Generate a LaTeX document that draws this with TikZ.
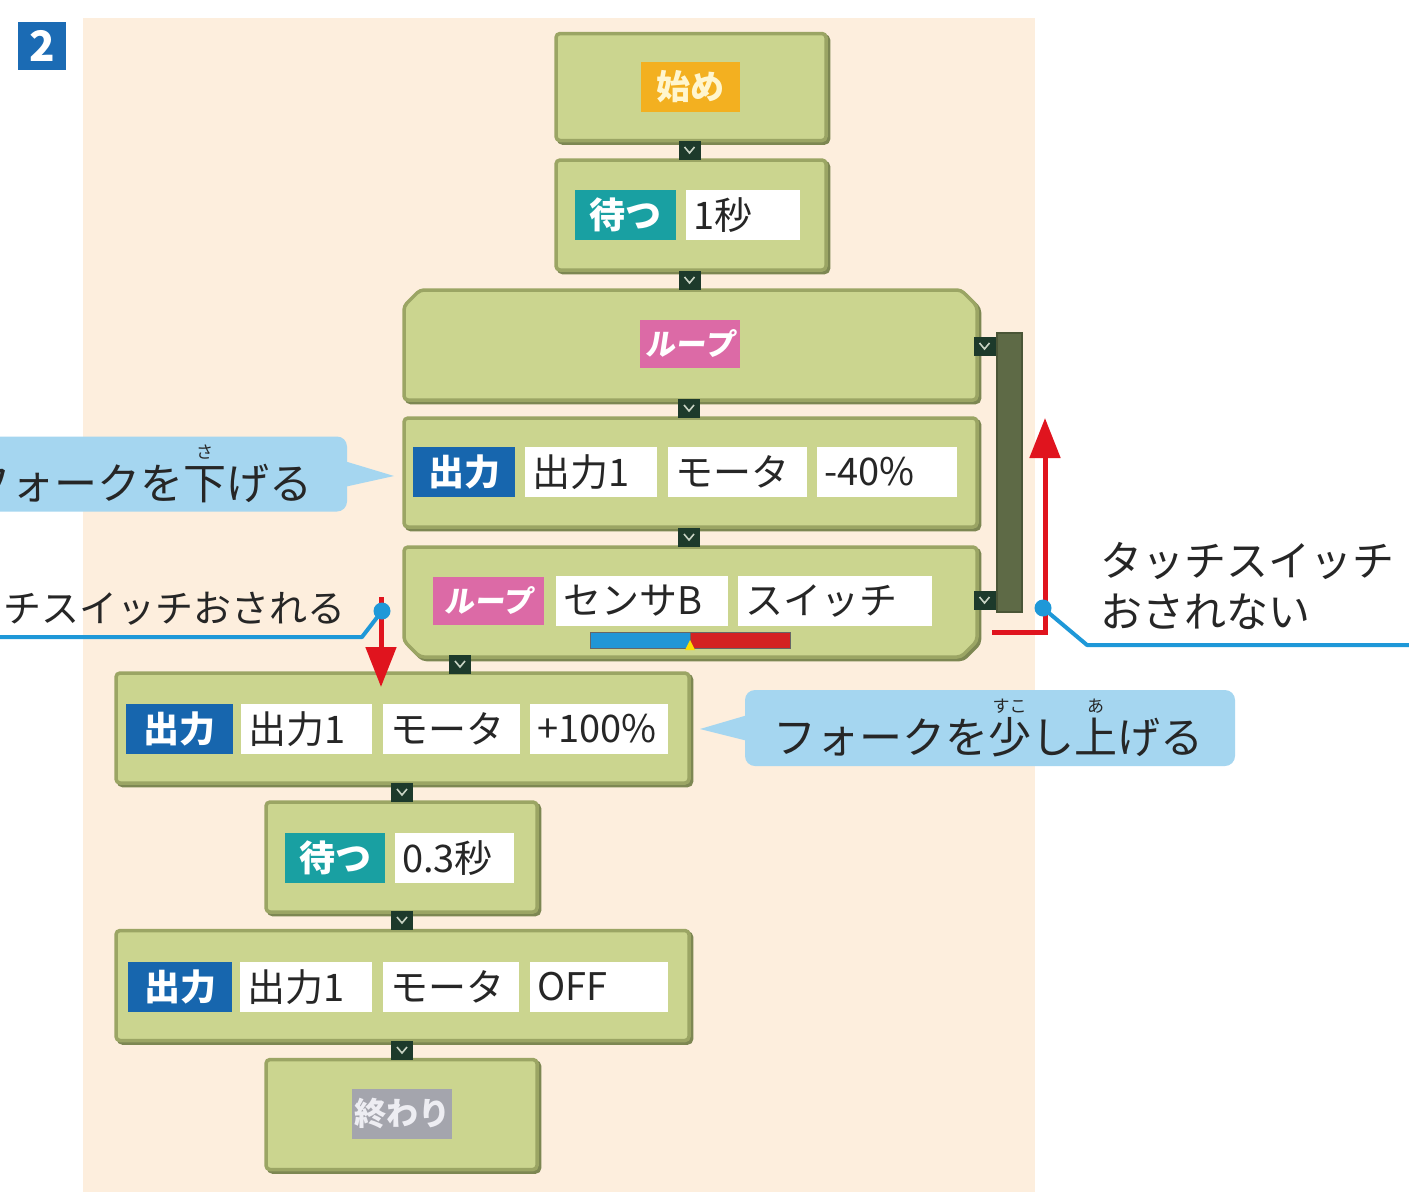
\documentclass[tikz,border=0pt]{standalone}
\usepackage{fontspec}
\newfontfamily\jp{Noto Sans CJK JP}
\newfontfamily\jpsl{Noto Sans CJK JP}[FakeSlant=0.15]
\usetikzlibrary{arrows.meta,calc}
\definecolor{peach}{HTML}{FDEEDD}
\definecolor{blockfill}{HTML}{CBD58F}
\definecolor{blockedge}{HTML}{9BA564}
\definecolor{blockshade}{HTML}{7D8752}
\definecolor{plugc}{HTML}{1D3A2B}
\definecolor{plugmark}{HTML}{C9D3C4}
\definecolor{loopbarc}{HTML}{5E6A46}
\definecolor{loopbaredge}{HTML}{4A5536}
\definecolor{outblue}{HTML}{1766AE}
\definecolor{waitteal}{HTML}{19A0A2}
\definecolor{looppink}{HTML}{DC6AA6}
\definecolor{startorange}{HTML}{F3B020}
\definecolor{startcream}{HTML}{FFF6CF}
\definecolor{endgray}{HTML}{A4A5AD}
\definecolor{endtext}{HTML}{EDEDF2}
\definecolor{calloutblue}{HTML}{A5D6F0}
\definecolor{leaderblue}{HTML}{1E98D8}
\definecolor{arrowred}{HTML}{E0141E}
\definecolor{badgeblue}{HTML}{1B6BB4}
\definecolor{barblue}{HTML}{2196D6}
\definecolor{barred}{HTML}{D42222}
\newcommand\rubytxt[2]{\leavevmode\rlap{\makebox[1em]{\raisebox{0.95em}[0pt][0pt]{\fontsize{17}{17}\selectfont #2}}}#1}
\tikzset{
  blockpath/.style={fill=blockfill, draw=blockedge, line width=3.5pt, rounded corners=4pt,
    preaction={fill=blockshade, draw=blockshade, line width=3.5pt, transform canvas={xshift=2.5pt,yshift=-2.5pt}}},
  block/.style={blockpath, inner sep=0pt},
  frame/.style={inner sep=0pt, outer sep=0pt},
  tag/.style={fill=#1, text=white, inner sep=0pt, minimum height=50pt, font=\jp\bfseries\fontsize{36}{36}\selectfont},
  looptag/.style={fill=looppink, text=white, inner sep=0pt, minimum height=48pt, font=\jpsl\bfseries\fontsize{30}{30}\selectfont},
  field/.style={fill=white, text=black!85, inner xsep=7pt, inner ysep=0pt, minimum height=50pt, text width=#1, align=left, anchor=west, font=\jp\fontsize{38}{38}\selectfont},
  plug/.style={fill=plugc, minimum width=22pt, minimum height=19pt, inner sep=0pt,
    path picture={\draw[plugmark, line width=1.6pt] ([xshift=-5pt,yshift=3pt]path picture bounding box.center) -- ([yshift=-3pt]path picture bounding box.center) -- ([xshift=5pt,yshift=3pt]path picture bounding box.center);}},
  callout/.style={fill=calloutblue, rounded corners=10pt, inner sep=0pt},
  calltext/.style={font=\jp\fontsize{43}{43}\selectfont, text=black!85, inner sep=0pt},
  note/.style={font=\jp\fontsize{#1}{#1}\selectfont, text=black!85, inner sep=0pt},
  redarrow/.style={draw=arrowred, line width=5pt, line join=miter, -{Triangle[length=40pt,width=30pt]}},
  leader/.style={draw=leaderblue, line width=4pt, line join=round},
  leaderdot/.style={circle, fill=leaderblue, minimum size=17pt, inner sep=0pt},
}
\begin{document}
\begin{tikzpicture}[x=1pt,y=-1pt]
\useasboundingbox (0,0) rectangle (1409,1192);
\clip (0,0) rectangle (1409,1192);
\fill[white] (0,0) rectangle (1409,1192);
\fill[peach] (83,18) rectangle (1035,1192);

% badge
\node[fill=badgeblue, minimum size=48pt, inner sep=0pt, text=white, font=\jp\bfseries\fontsize{42}{42}\selectfont] (badge) at (42,46) {2};

% loop return bar
\node[fill=loopbarc, draw=loopbaredge, line width=2pt, minimum width=25pt, minimum height=279pt, inner sep=0pt] (lbar) at (1009.5,472.5) {};

% start
\node[block, minimum width=270pt, minimum height=107pt] (bstart) at (691,87) {};
\node[tag=startorange, text=startcream, minimum width=99pt, font=\jp\bfseries\fontsize{34}{34}\selectfont] (tstart) at (690.5,87) {始め};

% wait 1s
\node[block, minimum width=270pt, minimum height=110pt] (bwait1) at (691,215) {};
\node[tag=waitteal, minimum width=101pt] (twait1) at (625.5,215) {待つ};
\node[field=100pt] (fwait1) at (686,215) {1秒};

% loop top
\node[frame, minimum width=573pt, minimum height=110pt] (lt) at (690.5,345) {};
\path[blockpath] ([yshift=-16pt]lt.north west) -- ([xshift=16pt]lt.north west) -- ([xshift=-16pt]lt.north east) -- ([yshift=-16pt]lt.north east) -- (lt.south east) -- (lt.south west) -- cycle;
\node[looptag, minimum width=100pt] (tloop1) at (690,344) {ループ};

% output -40%
\node[block, minimum width=573pt, minimum height=109pt] (bout1) at (690.5,472.5) {};
\node[tag=outblue, minimum width=102pt] (tout1) at (464,472) {出力};
\node[field=118pt] (f11) at (525,472) {出力1};
\node[field=125pt] (f12) at (668,472) {モータ};
\node[field=126pt] (f13) at (817,472) {-40\%};

% loop bottom
\node[frame, minimum width=573pt, minimum height=110pt] (lb) at (690.5,602) {};
\path[blockpath] (lb.north west) -- (lb.north east) -- ([yshift=16pt]lb.south east) -- ([xshift=-16pt]lb.south east) -- ([xshift=16pt]lb.south west) -- ([yshift=16pt]lb.south west) -- cycle;
\node[looptag, minimum width=111pt] (tloop2) at (488.5,601) {ループ};
\node[field=158pt] (f21) at (556,601) {センサB};
\node[field=180pt] (f22) at (738,601) {スイッチ};
\fill[barblue, draw=black!60, line width=1pt] (590,632) rectangle (690,648);
\fill[barred, draw=black!60, line width=1pt] (690,632) rectangle (790,648);
\fill[yellow!80!orange] (685,650) -- (690,640) -- (695,650) -- cycle;

% output +100%
\node[block, minimum width=573pt, minimum height=110pt] (bout2) at (402.5,728) {};
\node[tag=outblue, minimum width=107pt] (tout2) at (179.5,729) {出力};
\node[field=117pt] (f31) at (241,729) {出力1};
\node[field=123pt] (f32) at (383,729) {モータ};
\node[field=124pt] (f33) at (530,729) {+100\%};

% wait 0.3s
\node[block, minimum width=271pt, minimum height=110pt] (bwait2) at (401.5,857) {};
\node[tag=waitteal, minimum width=100pt] (twait2) at (335,858) {待つ};
\node[field=105pt] (fwait2) at (395,858) {0.3秒};

% output OFF
\node[block, minimum width=573pt, minimum height=110pt] (bout3) at (402.5,985.5) {};
\node[tag=outblue, minimum width=104pt] (tout3) at (180,987) {出力};
\node[field=118pt] (f41) at (240,987) {出力1};
\node[field=122pt] (f42) at (383,987) {モータ};
\node[field=124pt] (f43) at (530,987) {OFF};

% end
\node[block, minimum width=271pt, minimum height=110pt] (bend) at (401.5,1114.5) {};
\node[tag=endgray, text=endtext, minimum width=100pt, font=\jp\bfseries\fontsize{32}{32}\selectfont] (tend) at (402,1114) {終わり};

% plugs
\node[plug] (p1) at (689.5,150) {};
\node[plug] (p2) at (689.5,280) {};
\node[plug] (p3) at (689,408) {};
\node[plug] (p4) at (689,537) {};
\node[plug] (p5) at (460,664) {};
\node[plug] (p6) at (402,792) {};
\node[plug] (p7) at (402,920) {};
\node[plug] (p8) at (402,1050) {};
\node[plug] (ploopt) at (984.5,346) {};
\node[plug] (ploopb) at (984.5,600) {};

% left callout
\node[callout, minimum width=380pt, minimum height=75pt] (cL) at (157,474) {};
\coordinate (cLtip) at (394,476);
\fill[calloutblue] ([xshift=-3pt,yshift=13pt]cL.east) -- (cLtip) -- ([xshift=-3pt,yshift=-13pt]cL.east) -- cycle;
\node[calltext, anchor=base west] (tL) at (-32,499) {フォークを\rubytxt{下}{さ}げる};

% right callout
\node[callout, minimum width=490pt, minimum height=76pt] (cR) at (990,728) {};
\coordinate (cRtip) at (700,729);
\fill[calloutblue] ([xshift=3pt,yshift=13pt]cR.west) -- (cRtip) -- ([xshift=3pt,yshift=-13pt]cR.west) -- cycle;
\node[calltext, anchor=base west] (tR) at (773,753) {フォークを\rubytxt{少}{すこ}し\rubytxt{上}{あ}げる};

% left: switch pressed
\coordinate (rLstart) at (381,597);
\coordinate (rLtip) at (381,687);
\draw[redarrow] (rLstart) -- (rLtip);
\coordinate (dLc) at (382,611);
\coordinate (kL) at (362,637);
\coordinate (eL) at (-5,637);
\draw[leader] (dLc) -- (kL) -- (eL);
\node[leaderdot] (dL) at (dLc) {};
\node[note=38, anchor=base east] (nL) at (346,622) {チスイッチおされる};

% right: switch not pressed
\coordinate (rRstart) at (992,632);
\coordinate (rRknee) at (1045,632);
\coordinate (rRtip) at (1045,418);
\draw[redarrow] (rRstart) -- (rRknee) -- (rRtip);
\coordinate (dRc) at (1043,608);
\coordinate (kR) at (1087,645);
\coordinate (eR) at (1414,645);
\draw[leader] (dRc) -- (kR) -- (eR);
\node[leaderdot] (dR) at (dRc) {};
\node[note=42, anchor=base west] (nR1) at (1100,576) {タッチスイッチ};
\node[note=42, anchor=base west] (nR2) at (1100,627) {おされない};
\end{tikzpicture}
\end{document}
